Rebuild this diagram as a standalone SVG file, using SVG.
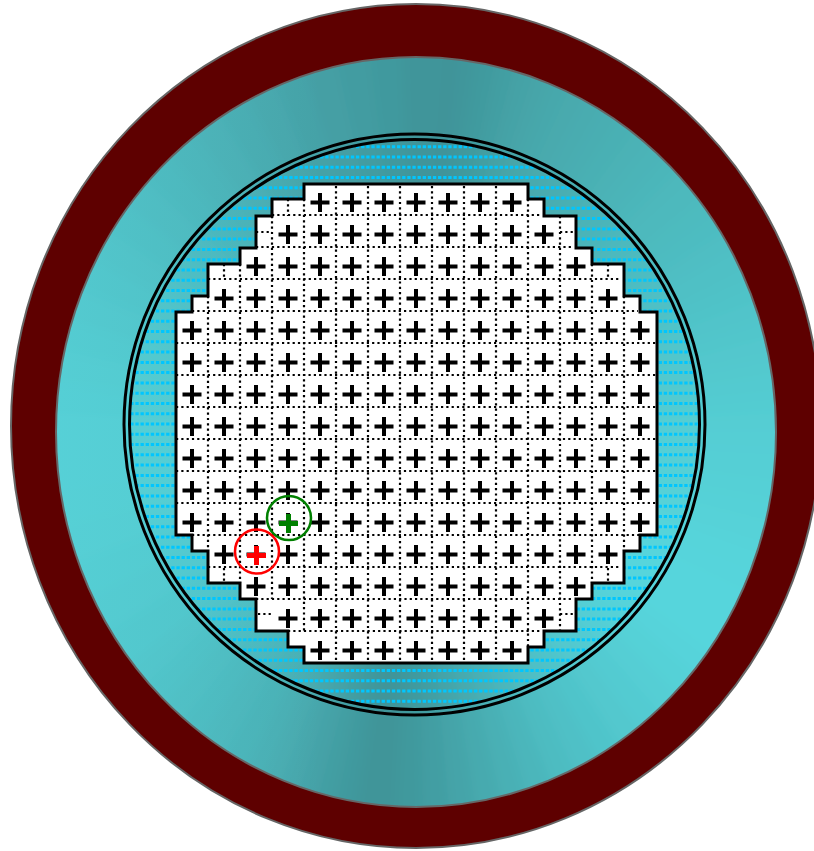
<svg xmlns="http://www.w3.org/2000/svg" xmlns:xlink="http://www.w3.org/1999/xlink" width="814" height="851" viewBox="0 0 814 851">
<defs>
<style>
.grid{stroke:#000;stroke-width:2.2;stroke-dasharray:2.2 3.1;fill:none}
.p{stroke:#000;stroke-width:4;fill:none}
.dotline{stroke:#00c6ff;stroke-width:3;stroke-dasharray:3.3 1.83;fill:none}
</style>
<filter id="soft" x="-10%" y="-10%" width="120%" height="120%"><feGaussianBlur stdDeviation="6"/></filter>
<linearGradient id="lift" gradientUnits="userSpaceOnUse" x1="56" y1="0" x2="320" y2="0"><stop offset="0" stop-color="#5bd9e0" stop-opacity=".4"/><stop offset="1" stop-color="#5bd9e0" stop-opacity="0"/></linearGradient>
<clipPath id="teal"><ellipse cx="416" cy="432" rx="360" ry="375"/></clipPath>
<clipPath id="inner"><circle cx="414.5" cy="424.5" r="286"/></clipPath>
<clipPath id="poly"><path d="M304 184H528V199H544V216H576V248H592V264H624V296H640V312H657V535H640V551H624V583H592V599H576V631H544V647H528V663H304V647H288V631H256V599H240V583H208V551H192V535H176V312H192V296H208V264H240V248H256V216H272V199H304Z"/></clipPath>
<path id="w" d="M416 432L416 -60L476 -60Z"/>
<path id="plus" d="M-9.5 0H9.5M0 -9.5V9.5"/>
<g id="row7"><use xlink:href="#plus" x="320"/><use xlink:href="#plus" x="352"/><use xlink:href="#plus" x="384"/><use xlink:href="#plus" x="416"/><use xlink:href="#plus" x="448"/><use xlink:href="#plus" x="480"/><use xlink:href="#plus" x="512"/></g>
<g id="row9"><use xlink:href="#row7"/><use xlink:href="#plus" x="288"/><use xlink:href="#plus" x="544"/></g>
<g id="row11"><use xlink:href="#row9"/><use xlink:href="#plus" x="256"/><use xlink:href="#plus" x="576"/></g>
<g id="row13"><use xlink:href="#row11"/><use xlink:href="#plus" x="224"/><use xlink:href="#plus" x="608"/></g>
<g id="row15"><use xlink:href="#row13"/><use xlink:href="#plus" x="192"/><use xlink:href="#plus" x="640"/></g>
</defs>
<rect width="814" height="851" fill="#fff"/>
<g id="outer-ring"><ellipse cx="416" cy="426" rx="405" ry="422" fill="#5e0000" stroke="#666" stroke-width="2"/></g>
<g id="teal-disc">
<g clip-path="url(#teal)">
<rect x="50" y="50" width="730" height="760" fill="#50c4ca"/>
<g id="wedges" filter="url(#soft)" transform="rotate(3 416 432)">
<use xlink:href="#w" fill="#3f9297" transform="rotate(0 416 432)"/>
<use xlink:href="#w" fill="#40969b" transform="rotate(3 416 432)"/>
<use xlink:href="#w" fill="#419a9e" transform="rotate(6 416 432)"/>
<use xlink:href="#w" fill="#439ea2" transform="rotate(9 416 432)"/>
<use xlink:href="#w" fill="#45a2a6" transform="rotate(12 416 432)"/>
<use xlink:href="#w" fill="#46a5a9" transform="rotate(15 416 432)"/>
<use xlink:href="#w" fill="#47a8ac" transform="rotate(18 416 432)"/>
<use xlink:href="#w" fill="#48aaae" transform="rotate(21 416 432)"/>
<use xlink:href="#w" fill="#49acb0" transform="rotate(24 416 432)"/>
<use xlink:href="#w" fill="#4aaeb2" transform="rotate(27 416 432)"/>
<use xlink:href="#w" fill="#4ab0b4" transform="rotate(30 416 432)"/>
<use xlink:href="#w" fill="#4bb2b6" transform="rotate(33 416 432)"/>
<use xlink:href="#w" fill="#4cb4b8" transform="rotate(36 416 432)"/>
<use xlink:href="#w" fill="#4cb6ba" transform="rotate(39 416 432)"/>
<use xlink:href="#w" fill="#4db8bc" transform="rotate(42 416 432)"/>
<use xlink:href="#w" fill="#4db9bd" transform="rotate(45 416 432)"/>
<use xlink:href="#w" fill="#4ebbbf" transform="rotate(48 416 432)"/>
<use xlink:href="#w" fill="#4ebcc1" transform="rotate(51 416 432)"/>
<use xlink:href="#w" fill="#4fbec3" transform="rotate(54 416 432)"/>
<use xlink:href="#w" fill="#4fc0c5" transform="rotate(57 416 432)"/>
<use xlink:href="#w" fill="#50c1c6" transform="rotate(60 416 432)"/>
<use xlink:href="#w" fill="#50c3c8" transform="rotate(63 416 432)"/>
<use xlink:href="#w" fill="#51c4ca" transform="rotate(66 416 432)"/>
<use xlink:href="#w" fill="#51c6cb" transform="rotate(69 416 432)"/>
<use xlink:href="#w" fill="#52c7cd" transform="rotate(72 416 432)"/>
<use xlink:href="#w" fill="#52c9ce" transform="rotate(75 416 432)"/>
<use xlink:href="#w" fill="#53cad0" transform="rotate(78 416 432)"/>
<use xlink:href="#w" fill="#53ccd1" transform="rotate(81 416 432)"/>
<use xlink:href="#w" fill="#54cdd3" transform="rotate(84 416 432)"/>
<use xlink:href="#w" fill="#54ced4" transform="rotate(87 416 432)"/>
<use xlink:href="#w" fill="#55cfd5" transform="rotate(90 416 432)"/>
<use xlink:href="#w" fill="#55d0d6" transform="rotate(95 416 432)"/>
<use xlink:href="#w" fill="#55d1d7" transform="rotate(98 416 432)"/>
<use xlink:href="#w" fill="#56d2d8" transform="rotate(101 416 432)"/>
<use xlink:href="#w" fill="#56d3d9" transform="rotate(104 416 432)"/>
<use xlink:href="#w" fill="#56d4da" transform="rotate(107 416 432)"/>
<use xlink:href="#w" fill="#57d4db" transform="rotate(110 416 432)"/>
<use xlink:href="#w" fill="#57d5dc" transform="rotate(113 416 432)"/>
<use xlink:href="#w" fill="#57d5dc" transform="rotate(116 416 432)"/>
<use xlink:href="#w" fill="#57d5dc" transform="rotate(120 416 432)"/>
<use xlink:href="#w" fill="#56d3da" transform="rotate(124 416 432)"/>
<use xlink:href="#w" fill="#55d1d7" transform="rotate(128 416 432)"/>
<use xlink:href="#w" fill="#54ced4" transform="rotate(132 416 432)"/>
<use xlink:href="#w" fill="#53cbd1" transform="rotate(136 416 432)"/>
<use xlink:href="#w" fill="#52c8ce" transform="rotate(140 416 432)"/>
<use xlink:href="#w" fill="#50c4ca" transform="rotate(144 416 432)"/>
<use xlink:href="#w" fill="#4fc0c6" transform="rotate(148 416 432)"/>
<use xlink:href="#w" fill="#4dbcc1" transform="rotate(152 416 432)"/>
<use xlink:href="#w" fill="#4bb6bb" transform="rotate(156 416 432)"/>
<use xlink:href="#w" fill="#49b0b5" transform="rotate(160 416 432)"/>
<use xlink:href="#w" fill="#47aaaf" transform="rotate(164 416 432)"/>
<use xlink:href="#w" fill="#45a4a9" transform="rotate(168 416 432)"/>
<use xlink:href="#w" fill="#439ea3" transform="rotate(172 416 432)"/>
<use xlink:href="#w" fill="#41999d" transform="rotate(176 416 432)"/>
<use xlink:href="#w" fill="#3f9599" transform="rotate(180 416 432)"/>
<use xlink:href="#w" fill="#3f9599" transform="rotate(183 416 432)"/>
<use xlink:href="#w" fill="#41999e" transform="rotate(186 416 432)"/>
<use xlink:href="#w" fill="#439ea2" transform="rotate(189 416 432)"/>
<use xlink:href="#w" fill="#45a2a7" transform="rotate(192 416 432)"/>
<use xlink:href="#w" fill="#46a6ab" transform="rotate(195 416 432)"/>
<use xlink:href="#w" fill="#48aaaf" transform="rotate(198 416 432)"/>
<use xlink:href="#w" fill="#49adb2" transform="rotate(201 416 432)"/>
<use xlink:href="#w" fill="#4ab0b5" transform="rotate(204 416 432)"/>
<use xlink:href="#w" fill="#4bb3b8" transform="rotate(208 416 432)"/>
<use xlink:href="#w" fill="#4cb6bb" transform="rotate(212 416 432)"/>
<use xlink:href="#w" fill="#4db9be" transform="rotate(216 416 432)"/>
<use xlink:href="#w" fill="#4ebcc1" transform="rotate(220 416 432)"/>
<use xlink:href="#w" fill="#4fbfc4" transform="rotate(224 416 432)"/>
<use xlink:href="#w" fill="#50c2c7" transform="rotate(228 416 432)"/>
<use xlink:href="#w" fill="#51c5ca" transform="rotate(234 416 432)"/>
<use xlink:href="#w" fill="#51c7cc" transform="rotate(240 416 432)"/>
<use xlink:href="#w" fill="#52c9ce" transform="rotate(246 416 432)"/>
<use xlink:href="#w" fill="#52cacf" transform="rotate(252 416 432)"/>
<use xlink:href="#w" fill="#52cad0" transform="rotate(258 416 432)"/>
<use xlink:href="#w" fill="#52cad0" transform="rotate(264 416 432)"/>
<use xlink:href="#w" fill="#51c8ce" transform="rotate(270 416 432)"/>
<use xlink:href="#w" fill="#51c6cb" transform="rotate(275 416 432)"/>
<use xlink:href="#w" fill="#50c3c8" transform="rotate(280 416 432)"/>
<use xlink:href="#w" fill="#4fc0c5" transform="rotate(285 416 432)"/>
<use xlink:href="#w" fill="#4ebdc2" transform="rotate(290 416 432)"/>
<use xlink:href="#w" fill="#4dbabf" transform="rotate(295 416 432)"/>
<use xlink:href="#w" fill="#4cb7bc" transform="rotate(300 416 432)"/>
<use xlink:href="#w" fill="#4bb4b9" transform="rotate(305 416 432)"/>
<use xlink:href="#w" fill="#4ab1b6" transform="rotate(310 416 432)"/>
<use xlink:href="#w" fill="#49aeb3" transform="rotate(315 416 432)"/>
<use xlink:href="#w" fill="#48abb0" transform="rotate(320 416 432)"/>
<use xlink:href="#w" fill="#47a8ad" transform="rotate(325 416 432)"/>
<use xlink:href="#w" fill="#46a5aa" transform="rotate(330 416 432)"/>
<use xlink:href="#w" fill="#45a2a7" transform="rotate(335 416 432)"/>
<use xlink:href="#w" fill="#449fa4" transform="rotate(340 416 432)"/>
<use xlink:href="#w" fill="#439ca1" transform="rotate(345 416 432)"/>
<use xlink:href="#w" fill="#41999e" transform="rotate(350 416 432)"/>
<use xlink:href="#w" fill="#40959a" transform="rotate(355 416 432)"/>
</g>
<rect x="50" y="50" width="280" height="760" fill="url(#lift)"/>
</g>
<ellipse cx="416" cy="432" rx="360" ry="375" fill="none" stroke="#666" stroke-width="2"/>
</g>
<g id="dot-field" clip-path="url(#inner)"><path class="dotline" d="M120 146.7H710M120 157H710M120 167.2H710M120 177.5H710M120 187.8H710M120 198H710M120 208.3H710M120 218.6H710M120 228.9H710M120 239.1H710M120 249.4H710M120 259.7H710M120 269.9H710M120 280.2H710M120 290.5H710M120 300.8H710M120 311H710M120 321.3H710M120 331.6H710M120 341.8H710M120 352.1H710M120 362.4H710M120 372.6H710M120 382.9H710M120 393.2H710M120 403.5H710M120 413.7H710M120 424H710M120 434.3H710M120 444.5H710M120 454.8H710M120 465.1H710M120 475.4H710M120 485.6H710M120 495.9H710M120 506.2H710M120 516.4H710M120 526.7H710M120 537H710M120 547.2H710M120 557.5H710M120 567.8H710M120 578.1H710M120 588.3H710M120 598.6H710M120 608.9H710M120 619.1H710M120 629.4H710M120 639.7H710M120 650H710M120 660.2H710M120 670.5H710M120 680.8H710M120 691H710M120 701.3H710"/></g>
<g id="rings"><circle cx="414.5" cy="424.5" r="290.5" fill="none" stroke="#000" stroke-width="3"/><circle cx="414.5" cy="424.5" r="285" fill="none" stroke="#000" stroke-width="3"/></g>
<g id="die-map">
<path id="outline" d="M304 184H528V199H544V216H576V248H592V264H624V296H640V312H657V535H640V551H624V583H592V599H576V631H544V647H528V663H304V647H288V631H256V599H240V583H208V551H192V535H176V312H192V296H208V264H240V248H256V216H272V199H304Z" fill="#fff" stroke="#000" stroke-width="3"/>
<g id="grid" class="grid" clip-path="url(#poly)">
<path d="M208 296V551M240 264V583M272 216V599M304 199V631M336 186V663M368 186V663M400 186V663M432 186V663M464 186V663M496 186V663M528 199V647M560 216V631M592 264V583M624 296V551"/>
<path d="M272 215H541M256 247H574M208 279H621M192 311H638M176 343H657M176 375H657M176 407H657M176 439H657M176 471H657M176 503H657M192 535H640M208 567H621M256 599H572M288 631H542"/>
<path d="M288 199V216M224 264V280M608 264V280M256 232H272M560 232H574M224 568V583M608 568V583M258 614H272M560 614H574"/>
</g>
<g id="marks" class="p">
<use xlink:href="#row7" y="202.5"/><use xlink:href="#row9" y="234.5"/><use xlink:href="#row11" y="266.5"/><use xlink:href="#row13" y="298.5"/>
<use xlink:href="#row15" y="330.5"/><use xlink:href="#row15" y="362.5"/><use xlink:href="#row15" y="394.5"/><use xlink:href="#row15" y="426.5"/><use xlink:href="#row15" y="458.5"/><use xlink:href="#row15" y="490.5"/><use xlink:href="#row15" y="522.5"/>
<use xlink:href="#row13" y="554.5"/><use xlink:href="#row11" y="586.5"/><use xlink:href="#row9" y="618.5"/><use xlink:href="#row7" y="650.5"/>
</g>
</g>
<g id="green-marker"><circle cx="289" cy="518" r="22" fill="none" stroke="#008000" stroke-width="2.5"/><path d="M279 523.5H298M288.5 514V533" stroke="#008000" stroke-width="5" fill="none"/></g>
<g id="red-marker"><circle cx="257" cy="551.5" r="22" fill="none" stroke="#f00" stroke-width="2.5"/><path d="M247 555.5H266M256.5 546V565" stroke="#f00" stroke-width="5" fill="none"/></g>
</svg>
